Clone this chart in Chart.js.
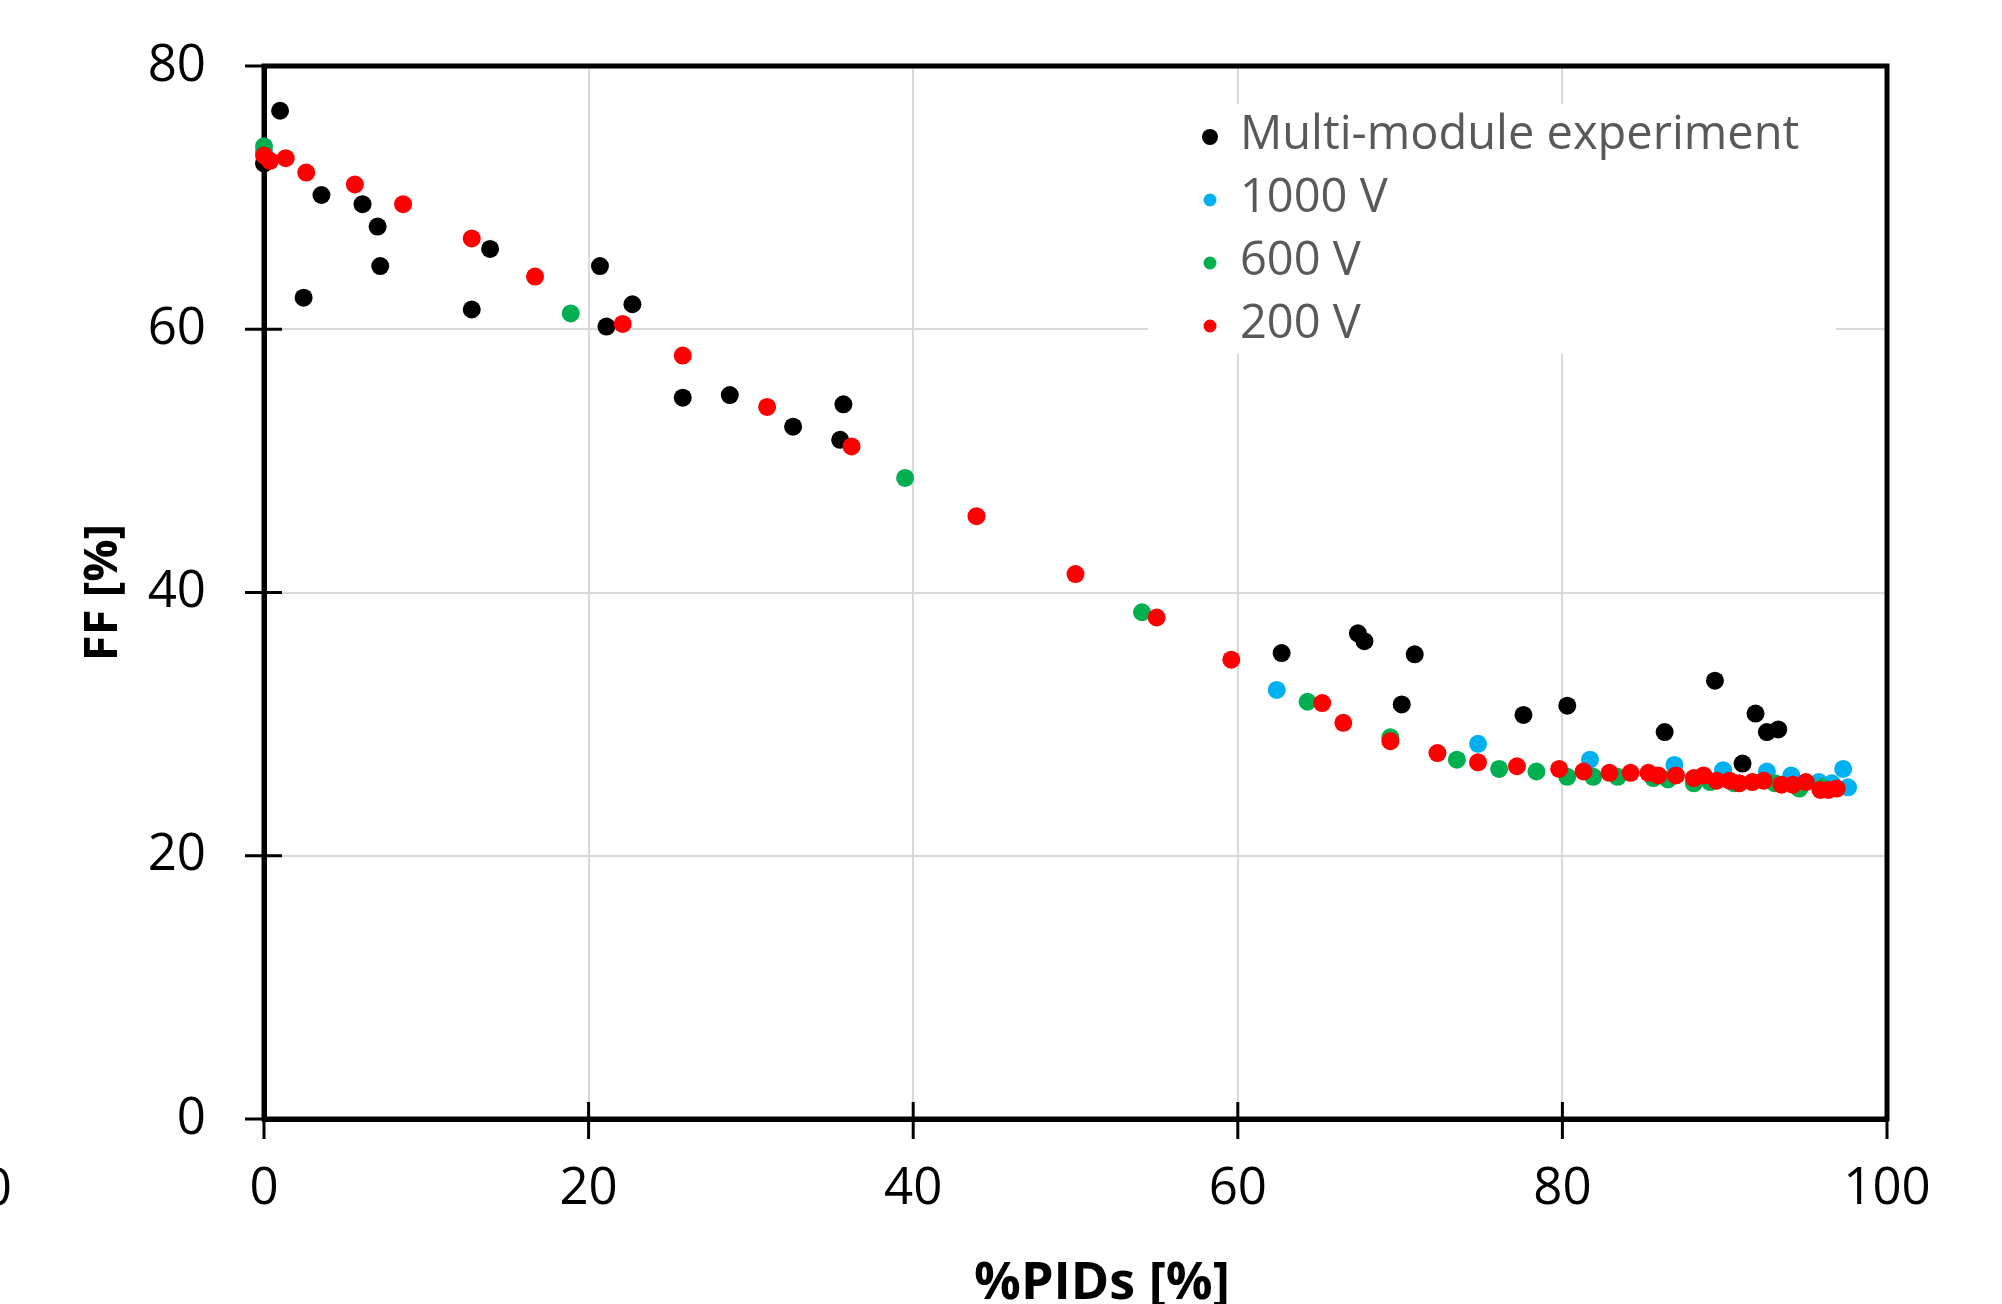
<!DOCTYPE html>
<html>
<head>
<meta charset="utf-8">
<title>FF vs %PIDs</title>
<script src="https://cdn.jsdelivr.net/npm/chart.js@4.4.0/dist/chart.umd.min.js"></script>
<style>
  html, body { margin: 0; padding: 0; background: #ffffff; }
  canvas { display: block; }
</style>
</head>
<body>
<canvas id="pidChart" width="2002" height="1304"></canvas>
<script>
const seriesLabels = ['Multi-module experiment', '1000 V', '600 V', '200 V'];
const seriesColors = ['#000000', '#00B0F0', '#00B050', '#FF0000'];

// Multi-module experiment (black)
const multiModuleX = [0.99, 0, 2.44, 3.54, 6.07, 7.0, 7.16, 12.8, 13.93, 20.7, 21.1, 22.7, 25.8, 28.7, 32.6, 35.5, 35.7,
    62.7, 67.4, 67.8, 70.1, 70.9, 77.6, 80.3, 86.3, 89.4, 91.1, 91.9, 92.6, 93.3];
const multiModuleY = [76.6, 72.6, 62.4, 70.2, 69.5, 67.8, 64.8, 61.5, 66.1, 64.8, 60.2, 61.9, 54.8, 55.0, 52.6, 51.6, 54.3,
    35.4, 36.9, 36.3, 31.5, 35.3, 30.7, 31.4, 29.4, 33.3, 27.0, 30.8, 29.4, 29.6];

// 1000 V (blue)
const v1000X = [0, 62.4, 74.8, 81.7, 86.9, 89.9, 92.6, 94.1, 95.8, 96.6, 97.3, 97.6];
const v1000Y = [73.5, 32.6, 28.5, 27.3, 26.9, 26.5, 26.4, 26.1, 25.6, 25.5, 26.6, 25.2];

// 600 V (green)
const v600X = [0, 18.9, 39.5, 54.1, 64.3, 69.4, 73.5, 76.1, 78.4, 80.3, 81.9, 83.4, 85.6, 86.5, 88.1, 89.1, 90.6, 93.1, 94.6, 96.0];
const v600Y = [73.9, 61.2, 48.7, 38.5, 31.7, 29.0, 27.3, 26.6, 26.4, 26.0, 26.0, 26.0, 25.9, 25.8, 25.5, 25.6, 25.5, 25.5, 25.1, 25.2];

// 200 V (red)
const v200X = [0, 0.37, 1.34, 2.6, 5.6, 8.57, 12.8, 16.7, 22.1, 25.8, 31.0, 36.2, 43.9, 50.0, 55.0, 59.6, 65.2, 66.5, 69.4,
    72.3, 74.8, 77.2, 79.8, 81.3, 82.9, 84.2, 85.3, 85.9, 87.0, 88.1, 88.7, 89.5, 90.3, 90.9, 91.7, 92.4, 93.5, 94.2,
    95.0, 95.9, 96.4, 96.9];
const v200Y = [73.2, 72.8, 73.0, 71.9, 71.0, 69.5, 66.9, 64.0, 60.4, 58.0, 54.1, 51.1, 45.8, 41.4, 38.1, 34.9, 31.6, 30.1, 28.7,
    27.8, 27.1, 26.8, 26.6, 26.4, 26.3, 26.3, 26.3, 26.1, 26.1, 25.9, 26.1, 25.7, 25.7, 25.5, 25.6, 25.7, 25.4, 25.4,
    25.6, 25.0, 25.0, 25.1];

const xTicks = [0, 20, 40, 60, 80, 100];
const yTicks = [0, 20, 40, 60, 80];
const xTitle = '%PIDs [%]';
const yTitle = 'FF [%]';

Chart.defaults.font.family = "'Open Sans', sans-serif";

function toPoints(xs, ys) {
    return xs.map((x, i) => ({ x: x, y: ys[i] }));
}

// frame around the plot and the ticks that cross the axes
const frameTicksPlugin = {
    id: 'frameTicks',
    beforeDatasetsDraw(chart) {
        const ctx = chart.ctx;
        const area = chart.chartArea;
        const xs = chart.scales.x;
        const ys = chart.scales.y;
        ctx.save();
        ctx.strokeStyle = '#000000';
        ctx.lineWidth = 5;
        ctx.strokeRect(area.left, area.top, area.right - area.left, area.bottom - area.top);
        ctx.lineWidth = 3;
        ctx.beginPath();
        xTicks.forEach(v => {
            const px = xs.getPixelForValue(v);
            ctx.moveTo(px, area.bottom - 17);
            ctx.lineTo(px, area.bottom + 20);
        });
        yTicks.forEach(v => {
            const py = ys.getPixelForValue(v);
            ctx.moveTo(area.left - 19, py);
            ctx.lineTo(area.left + 18, py);
        });
        ctx.stroke();

        ctx.fillStyle = '#000000';
        // x axis title, sits a little right of centre and runs off the bottom edge
        ctx.font = "bold 52px 'Open Sans'";
        ctx.textAlign = 'center';
        ctx.textBaseline = 'alphabetic';
        ctx.fillText(xTitle, 1102, 1299);
        // clipped label from the neighbouring panel
        ctx.font = "51px 'Open Sans'";
        ctx.textAlign = 'right';
        ctx.textBaseline = 'middle';
        ctx.fillText('0', 12, 1190);
        ctx.restore();
    }
};

const legendBoxPlugin = {
    id: 'legendBox',
    beforeDatasetsDraw(chart) {
        const ctx = chart.ctx;
        ctx.save();
        ctx.fillStyle = '#ffffff';
        ctx.fillRect(1148, 104, 688, 250);
        ctx.font = "47px 'Open Sans'";
        ctx.textAlign = 'left';
        ctx.textBaseline = 'middle';
        seriesLabels.forEach((label, i) => {
            const y = 136 + i * 63;
            ctx.fillStyle = seriesColors[i];
            ctx.beginPath();
            ctx.arc(1210, y + 1, i === 0 ? 8 : 6.5, 0, Math.PI * 2);
            ctx.fill();
            ctx.fillStyle = '#595959';
            ctx.fillText(label, 1240, y);
        });
        ctx.restore();
    }
};

function makeDataset(i, xs, ys) {
    return {
        label: seriesLabels[i],
        data: toPoints(xs, ys),
        backgroundColor: seriesColors[i],
        borderColor: seriesColors[i],
        pointRadius: 9,
        pointBorderWidth: 0,
        clip: false,
        order: 4 - i
    };
}

const pidChart = new Chart(document.getElementById('pidChart').getContext('2d'), {
    type: 'scatter',
    data: {
        datasets: [
            makeDataset(0, multiModuleX, multiModuleY),
            makeDataset(1, v1000X, v1000Y),
            makeDataset(2, v600X, v600Y),
            makeDataset(3, v200X, v200Y)
        ]
    },
    plugins: [frameTicksPlugin, legendBoxPlugin],
    options: {
        responsive: false,
        animation: false,
        layout: {
            padding: { top: 66, right: 115, left: 0, bottom: 0 }
        },
        plugins: {
            legend: { display: false },
            tooltip: { enabled: false }
        },
        scales: {
            x: {
                type: 'linear',
                min: 0,
                max: 100,
                afterFit: function(scale) { scale.height = 185; },
                afterBuildTicks: function(scale) { scale.ticks = xTicks.map(v => ({ value: v })); },
                ticks: {
                    color: '#000000',
                    padding: 40,
                    font: { size: 51 }
                },
                grid: { color: '#d9d9d9', lineWidth: 2, drawTicks: false },
                border: { display: true, color: '#000000', width: 5 }
            },
            y: {
                type: 'linear',
                min: 0,
                max: 80,
                afterFit: function(scale) { scale.width = 264; },
                afterBuildTicks: function(scale) { scale.ticks = yTicks.map(v => ({ value: v })); },
                ticks: {
                    color: '#000000',
                    padding: 0,
                    font: { size: 51 }
                },
                // invisible tick marks only keep the labels clear of the axis
                grid: { color: '#d9d9d9', lineWidth: 2, drawTicks: true, tickLength: 58, tickColor: 'rgba(0,0,0,0)' },
                border: { display: true, color: '#000000', width: 5 },
                title: {
                    display: true,
                    text: yTitle,
                    color: '#000000',
                    font: { size: 47, weight: 'bold' },
                    padding: { top: 75, bottom: 0 }
                }
            }
        }
    }
});
</script>
</body>
</html>
